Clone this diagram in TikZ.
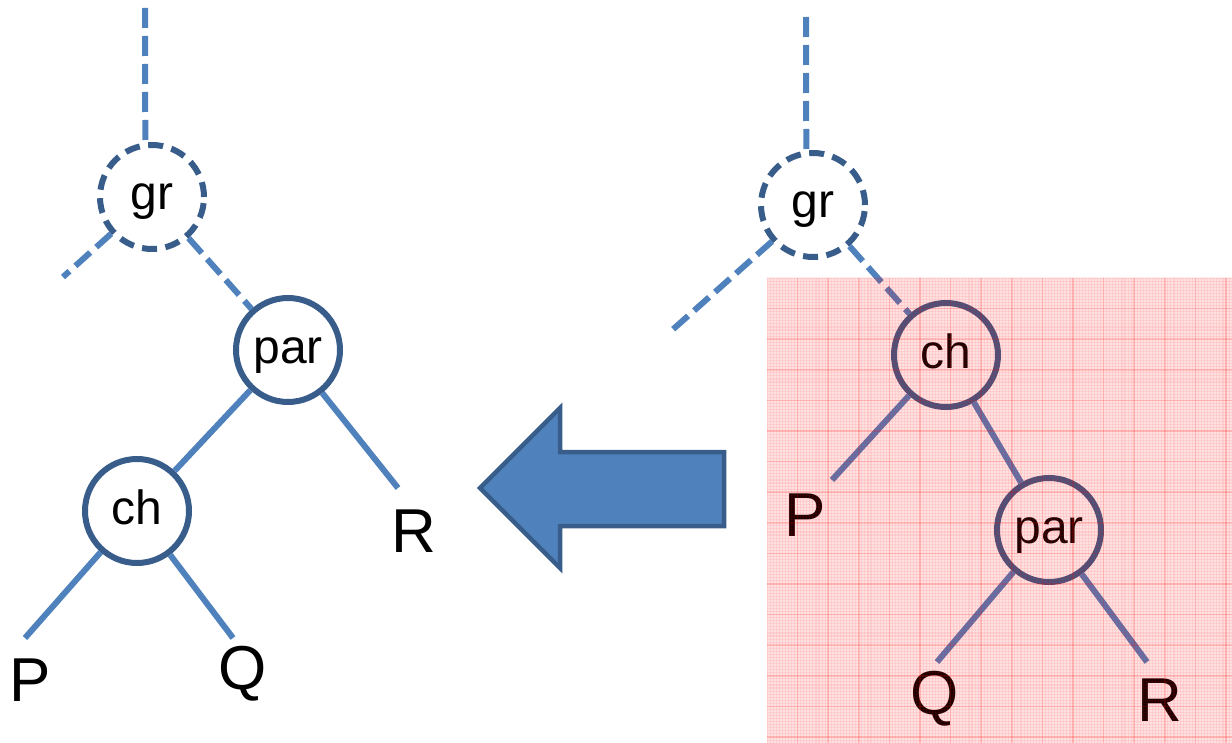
\documentclass[tikz,border=0pt]{standalone}
\usepackage{fontspec}
\setmainfont{Liberation Sans}
\begin{document}
\begin{tikzpicture}[x=1pt,y=-1pt,
  edgeblue/.style={draw=lineblue,line width=6pt},
  dashedge/.style={edgeblue,dash pattern=on 20pt off 8pt},
  treenode/.style={circle,draw=nodeblue,line width=6pt,fill=white,
    minimum size=104pt,inner sep=0pt,font=\fontsize{48}{48}\selectfont,
    text height=37pt,text depth=11pt},
  dashnode/.style={treenode,dash pattern=on 15pt off 8.5pt},
  leaf/.style={inner sep=0pt,font=\fontsize{62}{62}\selectfont},
  bigarrow/.style={fill=lineblue,draw=nodeblue,line width=4.5pt,line join=miter}]
\definecolor{lineblue}{HTML}{4F81BD}
\definecolor{nodeblue}{HTML}{385D8A}
\useasboundingbox (0,0) rectangle (1232,743);

% ---------- tree after the rotation ----------
\node[dashnode] (lgr) at (152,197) {gr};
\node[treenode] (lpar) at (288,350) {par};
\node[treenode] (lch) at (137,511) {ch};
\node[leaf] (lP) at (30,680) {P};
\node[leaf] (lQ) at (243,674) {Q};
\node[leaf] (lR) at (414,531) {R};
\coordinate (lgrtop) at (145,8);
\coordinate (lgrleft) at (63,277);
\coordinate (lPend) at (25,638);
\coordinate (lQend) at (233,638);
\coordinate (lRend) at (398,488);

\draw[dashedge] (lgrtop) -- (lgr.97);
\draw[dashedge] (lgr) -- (lgrleft);
\draw[dashedge] (lgr) -- (lpar);
\draw[edgeblue] (lpar) -- (lch);
\draw[edgeblue] (lpar) -- (lRend);
\draw[edgeblue] (lch) -- (lPend);
\draw[edgeblue] (lch) -- (lQend);

% ---------- arrow between the two trees ----------
\path[bigarrow] (480,488) -- (560,408) -- (560,452) -- (724,452)
  -- (724,526) -- (560,526) -- (560,568) -- cycle;

% ---------- tree before the rotation ----------
\node[dashnode] (rgr) at (813,205) {gr};
\node[treenode] (rch) at (946,355) {ch};
\node[treenode] (rpar) at (1049,530) {par};
\node[leaf] (rP) at (805,515) {P};
\node[leaf] (rQ) at (935,699) {Q};
\node[leaf] (rR) at (1160,700) {R};
\coordinate (rgrtop) at (806,17);
\coordinate (rgrleft) at (670,332);
\coordinate (rPend) at (832,480);
\coordinate (rQend) at (937,662);
\coordinate (rRend) at (1147,662);

\draw[dashedge] (rgrtop) -- (rgr.97);
\draw[dashedge] (rgr) -- (rgrleft);
\draw[dashedge] (rgr) -- (rch);
\draw[edgeblue] (rch) -- (rPend);
\draw[edgeblue] (rch) -- (rpar);
\draw[edgeblue] (rpar) -- (rQend);
\draw[edgeblue] (rpar) -- (rRend);

% ---------- translucent graph-paper sheet over the right tree ----------
\begin{scope}
  \clip (767,278) rectangle (1232,743);
  \fill[red,opacity=0.12] (767,278) rectangle (1232,743);
  \foreach \i in {0,...,152} {
    \draw[red,opacity=0.07,line width=1.1pt] (767+3.06*\i,278) -- (767+3.06*\i,743);
    \draw[red,opacity=0.07,line width=1.1pt] (767,278+3.06*\i) -- (1232,278+3.06*\i);
  }
  \foreach \i in {1,...,15} {
    \draw[red,opacity=0.14,line width=1.5pt] (767+30.6*\i,278) -- (767+30.6*\i,743);
    \draw[red,opacity=0.14,line width=1.5pt] (767,278+30.6*\i) -- (1232,278+30.6*\i);
  }
\end{scope}
\end{tikzpicture}
\end{document}
